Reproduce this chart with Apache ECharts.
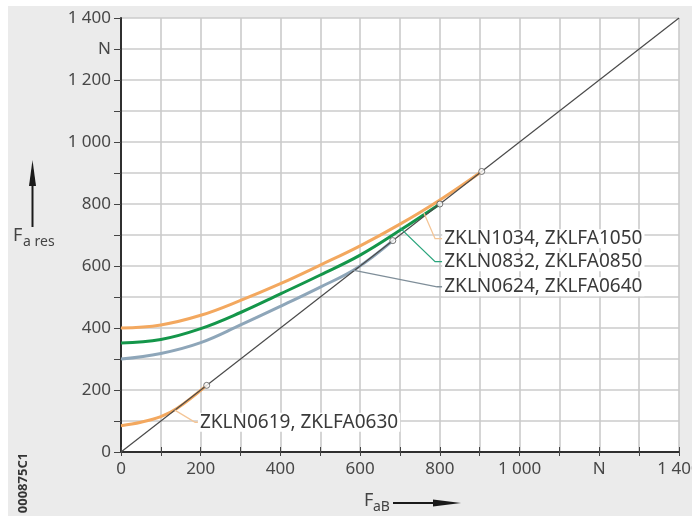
<!DOCTYPE html>
<html>
<head>
<meta charset="utf-8">
<script src="https://cdn.jsdelivr.net/npm/echarts@6/dist/echarts.min.js"></script>
<style>
html,body{margin:0;padding:0;background:#fff;overflow:hidden;}
#c{width:692px;height:516px;}
</style>
</head>
<body>
<div id="c"></div>
<script>
// ---- data ----
const xTickLabels = ['0','','200','','400','','600','','800','','1 000','','N','','1 400'];
const yTickLabels = ['0','','200','','400','','600','','800','','1 000','','1 200','N','1 400'];

const seriesNames = ['ZKLN0624, ZKLFA0640','ZKLN0832, ZKLFA0850','ZKLN1034, ZKLFA1050','ZKLN0619, ZKLFA0630'];

const x0624 = [0,100,200,300,400,500,590,682];
const y0624 = [300,318,353,410,470,532,592,682];

const x0832 = [0,100,200,300,400,500,600,700,800];
const y0832 = [352,363,398,450,510,571,635,715,800];

const x1034 = [0,100,200,300,400,500,600,700,800,905];
const y1034 = [400,410,441,489,543,603,665,735,813,905];

const x0619 = [0,50,100,140,215];
const y0619 = [85,96,114,140,215];

const diagX = [0,1400];
const diagY = [0,1400];

const endX = [215,682,800,905];
const endY = [215,682,800,905];

// ---- helpers ----
const zip = (a,b) => a.map((v,i)=>[v,b[i]]);

const cOrange = '#f3a85f', cGreen = '#14964a', cGray = '#8ea6b9';

const chart = echarts.init(document.getElementById('c'), null, {renderer:'canvas'});

const axisLabelFont = {fontFamily:'Noto Sans', fontSize:17, color:'#474747'};

const option = {
  animation:false,
  backgroundColor:'transparent',
  grid:{left:121,right:13,top:18,bottom:64,containLabel:false,outerBoundsMode:'none',
        show:true,backgroundColor:'#ffffff',borderWidth:0,z:-5},
  xAxis:[{
    type:'value',min:0,max:1400,interval:100,position:'bottom',z:1,
    axisLine:{show:true,onZero:false,lineStyle:{color:'#2f2f2f',width:2}},
    axisTick:{show:true,length:4,lineStyle:{color:'#444',width:1}},
    axisLabel:Object.assign({margin:9,showMinLabel:true,showMaxLabel:true,hideOverlap:false,
      formatter:(v)=>xTickLabels[Math.round(v/100)]||''},axisLabelFont),
    splitLine:{show:true,lineStyle:{color:'#cbcbcb',width:1.6}}
  },{
    type:'value',min:0,max:1400,interval:100,position:'bottom',z:1,
    axisLine:{show:false},
    axisTick:{show:true,inside:true,length:5,lineStyle:{color:'#444',width:1}},
    axisLabel:{show:false},
    splitLine:{show:false}
  }],
  yAxis:{
    type:'value',min:0,max:1400,interval:100,z:1,
    axisLine:{show:true,onZero:false,lineStyle:{color:'#2f2f2f',width:2}},
    axisTick:{show:true,length:7,lineStyle:{color:'#444',width:1}},
    axisLabel:Object.assign({margin:10,showMinLabel:true,showMaxLabel:true,
      formatter:(v)=>yTickLabels[Math.round(v/100)]||''},axisLabelFont),
    splitLine:{show:true,lineStyle:{color:'#cbcbcb',width:1.6}}
  },
  series:[
    {name:seriesNames[0],type:'line',data:zip(x0624,y0624),smooth:0.4,symbol:'none',
     lineStyle:{color:cGray,width:3},z:2},
    {name:seriesNames[1],type:'line',data:zip(x0832,y0832),smooth:0.4,symbol:'none',
     lineStyle:{color:cGreen,width:3},z:3},
    {name:seriesNames[2],type:'line',data:zip(x1034,y1034),smooth:0.4,symbol:'none',
     lineStyle:{color:cOrange,width:3},z:4},
    {name:seriesNames[3],type:'line',data:zip(x0619,y0619),smooth:0.4,symbol:'none',
     lineStyle:{color:cOrange,width:3},z:4},
    {name:'diag',type:'line',data:zip(diagX,diagY),symbol:'none',
     lineStyle:{color:'#4a4a4a',width:1.2},z:5},
    {name:'ends',type:'scatter',data:zip(endX,endY),symbol:'circle',symbolSize:6,
     itemStyle:{color:'#ffffff',borderColor:'#555',borderWidth:1},z:6}
  ]
};
chart.setOption(option);

// ---- annotations (leader lines + labels), placed in data coordinates ----
const annot = [
  {text:seriesNames[2], pts:[[760,771],[788,688],[806,688]], color:'#f4c596'},
  {text:seriesNames[1], pts:[[700,723],[788,614],[806,614]], color:'#2aa57c'},
  {text:seriesNames[0], pts:[[582,587],[793,533],[806,533]], color:'#7f8e99'},
  {text:seriesNames[3], pts:[[135,135],[186,96],[193,96]], color:'#f4c596'}
];
const toPx = p => chart.convertToPixel({gridIndex:0}, p);
const graphics = [];
annot.forEach(a=>{
  const px = a.pts.map(toPx);
  graphics.push({type:'polyline',z:20,shape:{points:px},style:{stroke:a.color,lineWidth:1.3,fill:null}});
  const last = px[px.length-1];
  graphics.push({type:'text',z:21,x:last[0],y:last[1],
    style:{text:a.text,fontFamily:'Noto Sans',fontSize:19,fill:'#3a3a3a',
      textAlign:'left',textVerticalAlign:'middle',backgroundColor:'#ffffff',padding:[0,2,0,2]}});
});

// ---- page frame, axis titles, arrows, code ----
const deco = [
  {type:'rect',z:-100,shape:{x:8,y:6,width:700,height:520},style:{fill:'#ebebeb'}},
  // y title
  {type:'line',z:10,shape:{x1:32.5,y1:227,x2:32.5,y2:182},style:{stroke:'#1a1a1a',lineWidth:2}},
  {type:'polygon',z:10,shape:{points:[[32.5,160],[29,186],[36,186]]},style:{fill:'#1a1a1a'}},
  {type:'text',z:10,x:13,y:236,style:{text:'F',fontFamily:'Noto Sans',fontSize:18,fill:'#444',textVerticalAlign:'middle'}},
  {type:'text',z:10,x:23,y:242,style:{text:'a res',fontFamily:'Noto Sans',fontSize:14,fill:'#444',textVerticalAlign:'middle'}},
  // x title
  {type:'text',z:10,x:364,y:501,style:{text:'F',fontFamily:'Noto Sans',fontSize:18,fill:'#444',textVerticalAlign:'middle'}},
  {type:'text',z:10,x:373,y:507,style:{text:'aB',fontFamily:'Noto Sans',fontSize:14,fill:'#444',textVerticalAlign:'middle'}},
  {type:'line',z:10,shape:{x1:393,y1:503,x2:440,y2:503},style:{stroke:'#1a1a1a',lineWidth:2}},
  {type:'polygon',z:10,shape:{points:[[461,503],[433,499.5],[433,506.5]]},style:{fill:'#1a1a1a'}},
  // code
  {type:'text',z:10,x:23,y:483,rotation:Math.PI/2,
   style:{text:'000875C1',fontFamily:'Noto Sans',fontWeight:'bold',fontSize:13,fill:'#333',
     textAlign:'center',textVerticalAlign:'middle'}}
];
chart.setOption({graphic:deco.concat(graphics)});
</script>
</body>
</html>
